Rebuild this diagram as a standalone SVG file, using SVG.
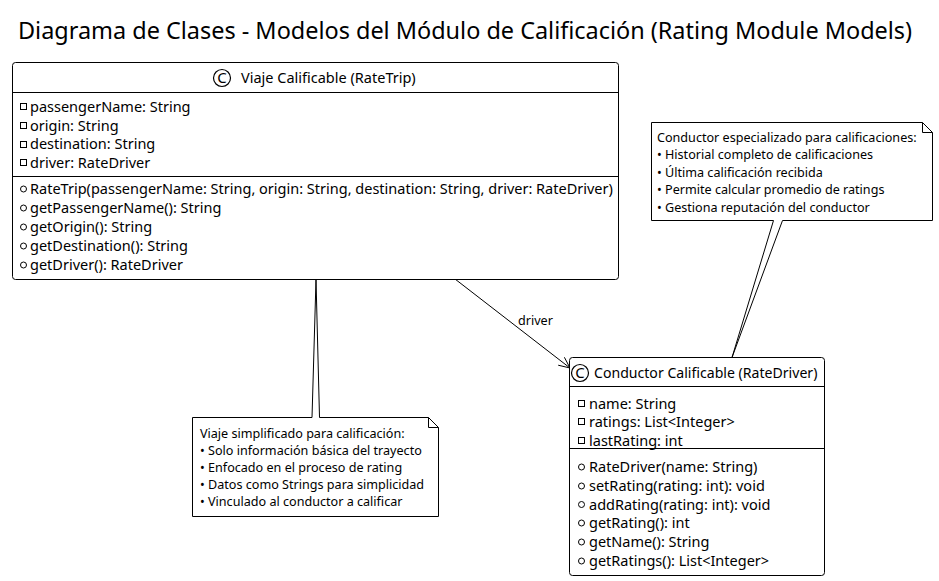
<svg xmlns="http://www.w3.org/2000/svg" width="939" height="581" viewBox="0 0 939 581">
<style>
text{font-family:"Noto Sans","Open Sans","DejaVu Sans",sans-serif;fill:#000}
.t{font-size:23.45px}
.c{font-size:14.5px}
.n{font-size:12.6px}
.ci{font-size:15px}
.box{fill:#fff;stroke:#000;stroke-width:1}
.ln{stroke:#000;stroke-width:1;fill:none}
.ico{fill:none;stroke:#000;stroke-width:1}
.cc{fill:none;stroke:#000;stroke-width:1.2}
</style>
<rect width="939" height="581" fill="#fff"/>
<text class="t" x="18" y="39">Diagrama de Clases - Modelos del Módulo de Calificación (Rating Module Models)</text>

<g id="connectors">
<path class="ln" d="M455,279 L570,368"/>
<path class="ln" d="M564.4,357.3 L570,368 L558.2,365.2"/>
<text class="n" x="518" y="325">driver</text>
</g>

<g id="RateTrip">
<rect class="box" x="12.5" y="62.5" width="606" height="217" rx="3"/>
<path class="ln" d="M12.5,92.5 H618.5 M12.5,176.5 H618.5"/>
<circle class="cc" cx="222" cy="78" r="8.5"/>
<text class="ci" x="222" y="83.3" text-anchor="middle">C</text>
<text class="c" x="241" y="83">Viaje Calificable (RateTrip)</text>
<rect class="ico" x="20.5" y="103.5" width="6" height="6"/>
<rect class="ico" x="20.5" y="122.5" width="6" height="6"/>
<rect class="ico" x="20.5" y="141.5" width="6" height="6"/>
<rect class="ico" x="20.5" y="159.5" width="6" height="6"/>
<text class="c" x="30" y="112">passengerName: String</text>
<text class="c" x="30" y="130.5">origin: String</text>
<text class="c" x="30" y="149">destination: String</text>
<text class="c" x="30" y="168">driver: RateDriver</text>
<circle class="ico" cx="23.5" cy="189" r="3"/>
<circle class="ico" cx="23.5" cy="208" r="3"/>
<circle class="ico" cx="23.5" cy="227" r="3"/>
<circle class="ico" cx="23.5" cy="246" r="3"/>
<circle class="ico" cx="23.5" cy="265" r="3"/>
<text class="c" x="30" y="194">RateTrip(passengerName: String, origin: String, destination: String, driver: RateDriver)</text>
<text class="c" x="30" y="213">getPassengerName(): String</text>
<text class="c" x="30" y="232">getOrigin(): String</text>
<text class="c" x="30" y="251">getDestination(): String</text>
<text class="c" x="30" y="270">getDriver(): RateDriver</text>
</g>

<g id="RateDriver">
<rect class="box" x="569.5" y="357.5" width="255" height="218" rx="3"/>
<path class="ln" d="M569.5,386.5 H824.5 M569.5,448.5 H824.5"/>
<circle class="cc" cx="580" cy="373" r="8.5"/>
<text class="ci" x="580" y="378.3" text-anchor="middle">C</text>
<text class="c" x="594" y="378" style="font-size:14.1px">Conductor Calificable (RateDriver)</text>
<rect class="ico" x="578.5" y="400.5" width="6" height="6"/>
<rect class="ico" x="578.5" y="418.5" width="6" height="6"/>
<rect class="ico" x="578.5" y="437.5" width="6" height="6"/>
<text class="c" x="589" y="408.5">name: String</text>
<text class="c" x="589" y="427">ratings: List&lt;Integer&gt;</text>
<text class="c" x="589" y="446">lastRating: int</text>
<circle class="ico" cx="581.5" cy="467" r="3"/>
<circle class="ico" cx="581.5" cy="486" r="3"/>
<circle class="ico" cx="581.5" cy="504.5" r="3"/>
<circle class="ico" cx="581.5" cy="523" r="3"/>
<circle class="ico" cx="581.5" cy="542" r="3"/>
<circle class="ico" cx="581.5" cy="561" r="3"/>
<text class="c" x="589" y="472">RateDriver(name: String)</text>
<text class="c" x="589" y="491">setRating(rating: int): void</text>
<text class="c" x="589" y="509.5">addRating(rating: int): void</text>
<text class="c" x="589" y="528">getRating(): int</text>
<text class="c" x="589" y="547">getName(): String</text>
<text class="c" x="589" y="566">getRatings(): List&lt;Integer&gt;</text>
</g>

<g id="note-driver">
<path class="box" d="M651.5,122.5 L922.5,122.5 L932.5,132.5 L932.5,220.5 L782.5,220.5 L732,357.5 L773.5,220.5 L651.5,220.5 Z"/>
<path class="ln" d="M922.5,122.5 L922.5,132.5 L932.5,132.5"/>
<text class="n" x="657" y="141.5">Conductor especializado para calificaciones:</text>
<text class="n" x="657" y="159">• Historial completo de calificaciones</text>
<text class="n" x="657" y="176.5">• Última calificación recibida</text>
<text class="n" x="657" y="194">• Permite calcular promedio de ratings</text>
<text class="n" x="657" y="212">• Gestiona reputación del conductor</text>
</g>

<g id="note-trip">
<path class="box" d="M192.5,417.5 L312,417.5 L316,279.5 L319.5,417.5 L428.5,417.5 L438.5,427.5 L438.5,516.5 L192.5,516.5 Z"/>
<path class="ln" d="M428.5,417.5 L428.5,427.5 L438.5,427.5"/>
<text class="n" x="200" y="437.5">Viaje simplificado para calificación:</text>
<text class="n" x="200" y="454.5">• Solo información básica del trayecto</text>
<text class="n" x="200" y="471.5">• Enfocado en el proceso de rating</text>
<text class="n" x="200" y="488.5">• Datos como Strings para simplicidad</text>
<text class="n" x="200" y="505.5">• Vinculado al conductor a calificar</text>
</g>
</svg>
